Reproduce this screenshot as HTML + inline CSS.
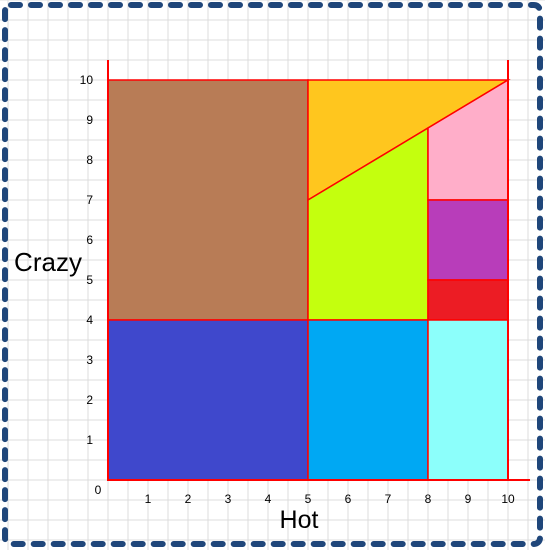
<!DOCTYPE html>
<html><head><meta charset="utf-8"><style>
body{margin:0;background:#fff;}
svg{display:block;font-family:"Liberation Sans",sans-serif;}
</style></head><body>
<svg id="c" width="545" height="550"></svg>
<script>
const categories=["brown","blue","yellow","green","cyan","pink","purple","red","lightcyan"];
const colors=["#b87c56","#3f48cc","#ffc61e","#c4ff0e","#00a8f3","#ffaec9","#b83dba","#ec1c24","#8cfffb"];
const polyX=[[0,5,5,0],[0,5,5,0],[5,10,5],[5,8,8,5],[5,8,8,5],[8,10,10,8],[8,10,10,8],[8,10,10,8],[8,10,10,8]];
const polyY=[[4,4,10,10],[0,0,4,4],[10,10,7],[4,4,8.8,7],[0,0,4,4],[8.8,10,7,7],[5,5,7,7],[4,4,5,5],[0,0,4,4]];
const xTicks=[1,2,3,4,5,6,7,8,9,10];
const yTicks=[1,2,3,4,5,6,7,8,9,10];
const sx=v=>108+v*40, sy=v=>480-v*40;
const svg=document.getElementById('c');
const NS='http://www.w3.org/2000/svg';
function mk(t,a){const e=document.createElementNS(NS,t);for(const k in a)e.setAttribute(k,a[k]);svg.appendChild(e);return e;}
for(let x=8;x<545;x+=20){const l=mk('line',{x1:x,y1:0,x2:x,y2:550,stroke:'#dcdcdc','stroke-width':1});

}
for(let y=0;y<550;y+=20){const l=mk('line',{x1:0,y1:y,x2:545,y2:y,stroke:'#dcdcdc','stroke-width':1});

}
polyX.forEach((xs,i)=>{const pts=xs.map((x,j)=>sx(x)+','+sy(polyY[i][j])).join(' ');
const p=mk('polygon',{points:pts,fill:colors[i],stroke:'#ff0000','stroke-width':1.5});

});
let a=mk('line',{x1:108,y1:60,x2:108,y2:481,stroke:'#ff0000','stroke-width':2});


a=mk('line',{x1:508,y1:60,x2:508,y2:481,stroke:'#ff0000','stroke-width':2});


a=mk('line',{x1:107,y1:480,x2:530,y2:480,stroke:'#ff0000','stroke-width':2});


xTicks.forEach(v=>{const t=mk('text',{x:sx(v),y:503,'font-size':12,'text-anchor':'middle',fill:'#000'});t.textContent=v;

});
yTicks.forEach(v=>{const t=mk('text',{x:93,y:sy(v)+4,'font-size':12,'text-anchor':'end',fill:'#000'});t.textContent=v;

});
let t=mk('text',{x:98,y:494,'font-size':12,'text-anchor':'middle'});t.textContent='0';


t=mk('text',{x:299,y:528,'font-size':25,'text-anchor':'middle'});t.textContent='Hot';


t=mk('text',{x:48,y:271,'font-size':26,'text-anchor':'middle'});t.textContent='Crazy';


const b=mk('rect',{x:5,y:5,width:535,height:539,rx:6,fill:'none',stroke:'#1f467a','stroke-width':6,'stroke-dasharray':'9 11','stroke-linecap':'round'});


</script>
</body></html>
